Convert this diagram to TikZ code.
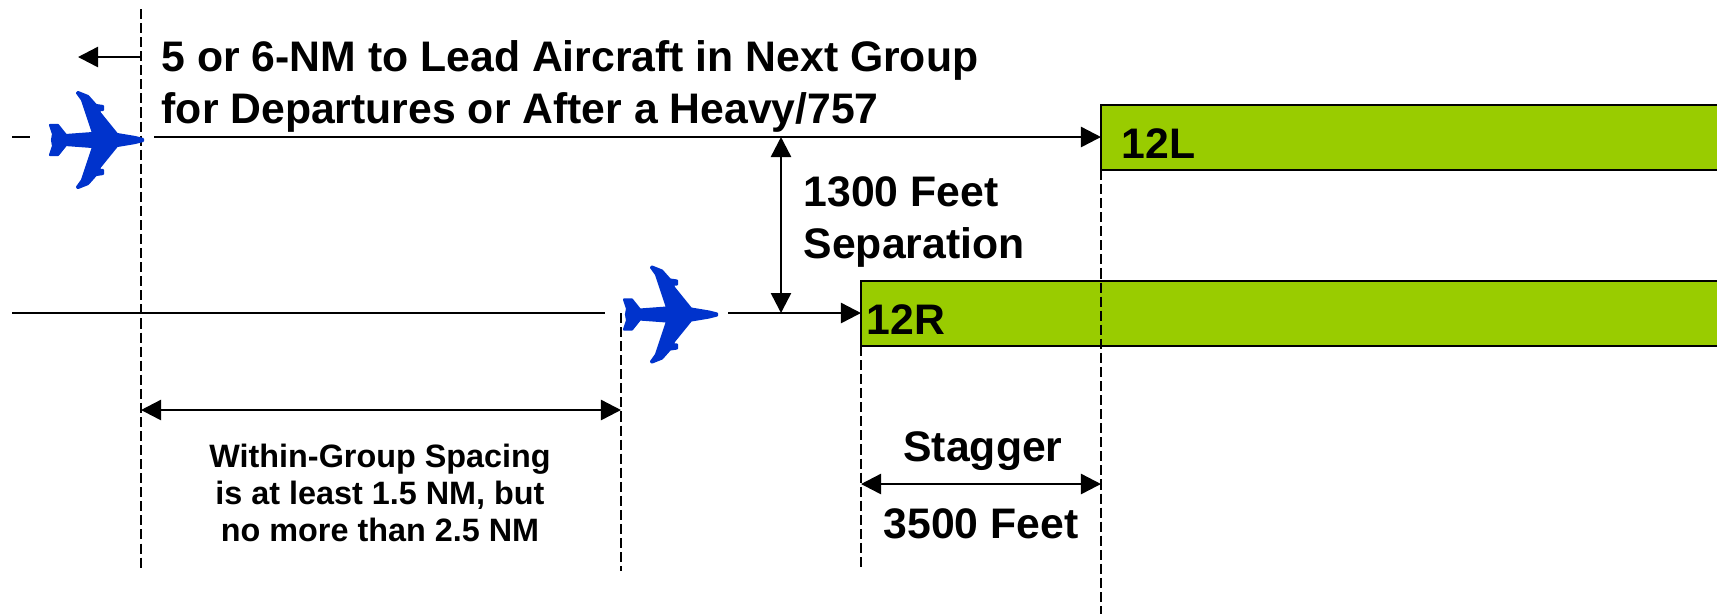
\documentclass[tikz,border=0pt]{standalone}
\usepackage{fontspec}
\setmainfont{Liberation Sans}
\usetikzlibrary{arrows.meta}

\begin{document}
\begin{tikzpicture}[x=.01cm, y=-.01cm,
runway/.style={draw=black, line width=.8pt},
guide/.style={line width=.7pt, dash pattern=on 2.85pt off 1.15pt},
dim/.style={line width=.7pt, {Triangle[length=.2cm,width=.2cm]}-{Triangle[length=.2cm,width=.2cm]}},
lead/.style={line width=.7pt, -{Triangle[length=.2cm,width=.2cm]}},
rule/.style={line width=.7pt},
big/.style={font=\bfseries\fontsize{12.15}{14.6}\selectfont, align=center, inner sep=0pt},
bigleft/.style={big, align=left},
small/.style={font=\bfseries\fontsize{9.2}{10.5}\selectfont, align=center, inner sep=0pt},
plane/.pic={
\filldraw[jet, line width=.6pt, line join=round] (0,-1)--(-8,-3)--(-26,-6)--(-43,-27)--(-44,-30)--(-40,-30)--(-40,-34)--(-47,-35)--(-55,-44)--(-65,-48)--(-66,-47)--(-61,-40)--(-50,-7)--(-77,-5)--(-85,-15)--(-93,-15)--(-90,-6)--(-91,0)
--(-90,6)--(-93,15)--(-85,15)--(-77,5)--(-50,7)--(-61,40)--(-66,47)--(-65,48)--(-55,44)--(-47,35)--(-40,34)--(-40,30)--(-44,30)--(-43,27)--(-26,6)--(-8,3)--(0,1)--cycle;
}]
\definecolor{jet}{HTML}{0033CC}
\definecolor{strip}{HTML}{99CC00}

\def\yL{137}
\def\yR{313}
\def\xA{141}
\def\xB{621}
\def\xC{861}
\def\xD{1101}

\useasboundingbox (0,0) rectangle (1717,614);

% runways
\path[runway, fill=strip] (\xD,105) rectangle (1720,170);
\path[runway, fill=strip] (\xC,281) rectangle (1720,346);
\node[big, anchor=west] (labL) at (1121,144) {12L};
\node[big, anchor=west] (labR) at (866,320) {12R};

% dashed verticals
\coordinate (topA) at (\xA,9);
\coordinate (botA) at (\xA,571);
\coordinate (topB) at (\xB,313);
\coordinate (botB) at (\xB,571);
\coordinate (topC) at (\xC,346);
\coordinate (botC) at (\xC,571);
\coordinate (topD) at (\xD,170);
\coordinate (botD) at (\xD,614);
\draw[guide] (topA)--(botA);
\draw[guide] (topB)--(botB);
\draw[guide] (topC)--(botC);
\draw[guide] (topD)--(botD);

% approach lines
\coordinate (farL) at (12,\yL);
\coordinate (gapL) at (30,\yL);
\coordinate (startL) at (154,\yL);
\coordinate (endL) at (\xD,\yL);
\coordinate (farR) at (12,\yR);
\coordinate (gapR) at (605,\yR);
\coordinate (startR) at (728,\yR);
\coordinate (endR) at (\xC,\yR);
\draw[rule] (farL)--(gapL);
\draw[lead] (startL)--(endL);
\draw[rule] (farR)--(gapR);
\draw[lead] (startR)--(endR);

% aircraft
\pic at (143,140) {plane};
\pic at (717,314.5) {plane};

% dimensions
\coordinate (nextA) at (\xA,57);
\coordinate (nextB) at (78,57);
\draw[lead] (nextA)--(nextB);
\coordinate (sepT) at (781,\yL);
\coordinate (sepB) at (781,\yR);
\draw[dim] (sepT)--(sepB);
\coordinate (grpA) at (\xA,410);
\coordinate (grpB) at (\xB,410);
\draw[dim] (grpA)--(grpB);
\coordinate (stgA) at (\xC,484);
\coordinate (stgB) at (\xD,484);
\draw[dim] (stgA)--(stgB);

% texts
\node[bigleft, anchor=north west] (next) at (161,40) {5 or 6-NM to Lead Aircraft in Next Group\\for Departures or After a Heavy/757};
\node[bigleft, anchor=west] (sep) at (803,222) {1300 Feet\\Separation};
\node[big] (stg) at (983,451) {Stagger};
\node[big] (ft) at (981,524) {3500 Feet};
\node[small] (grp) at (380,493) {Within-Group Spacing\\is at least 1.5 NM, but\\no more than 2.5 NM};

\end{tikzpicture}
\end{document}
